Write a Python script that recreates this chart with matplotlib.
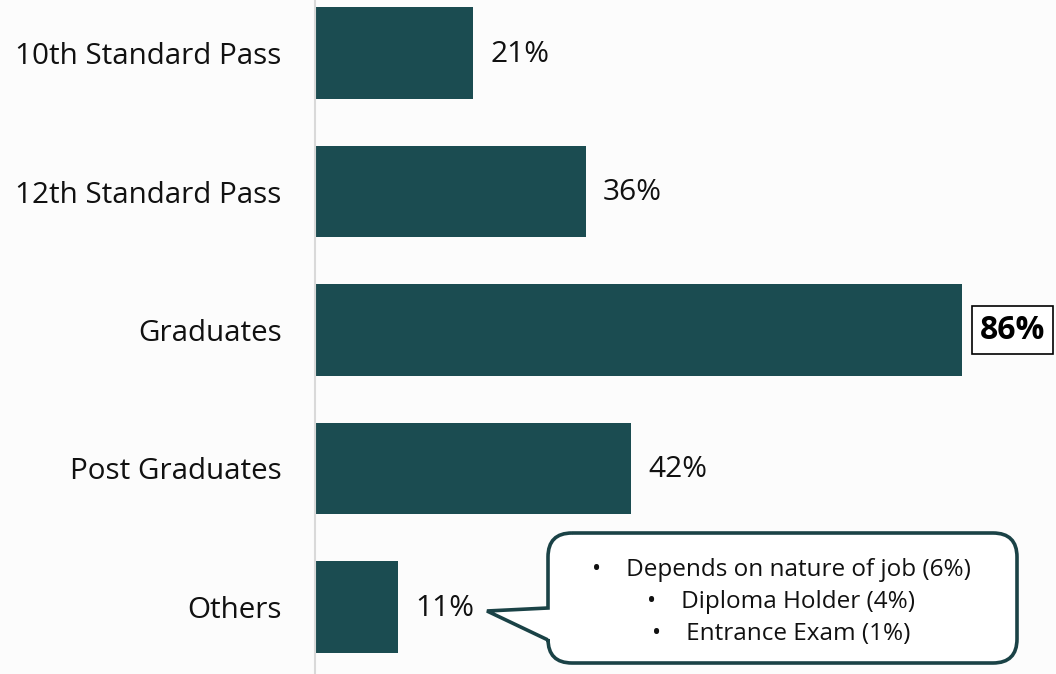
import matplotlib
matplotlib.use("Agg")
import matplotlib.pyplot as plt
from matplotlib.path import Path
from matplotlib.patches import PathPatch
from matplotlib.transforms import Affine2D

categories = ["10th Standard Pass", "12th Standard Pass", "Graduates", "Post Graduates", "Others"]
values = [21, 36, 86, 42, 11]
highlight = "Graduates"
callout_lines = ["•    Depends on nature of job (6%)", "•    Diploma Holder (4%)", "•    Entrance Exam (1%)"]

W, H = 1056, 674
plt.rcParams['font.family'] = ['Open Sans', 'DejaVu Sans']
BAR = "#1b4c51"
BG = "#fcfcfc"

fig = plt.figure(figsize=(W / 100, H / 100), dpi=100, facecolor=BG)
ax = fig.add_axes([315 / W, 0, (W - 315) / W, 1])
ax.set_facecolor(BG)

ypos = list(range(len(categories)))
ax.barh(ypos, values, height=0.664, color=BAR)
ax.set_xlim(0, 98.5)
ax.set_ylim(4.484, -0.383)

ax.set_yticks(ypos)
ax.set_yticklabels(categories, fontsize=21.3, color="#111111")
ax.tick_params(axis="y", length=0, pad=24)
ax.set_xticks([])
for s in ["top", "right", "bottom"]:
    ax.spines[s].set_visible(False)
ax.spines["left"].set_color("#d9d9d9")
ax.spines["left"].set_linewidth(1.5)

for y, v, c in zip(ypos, values, categories):
    if c == highlight:
        ax.annotate(f"{v}%", (v, y), xytext=(13, 0), textcoords="offset points",
                    va="center", ha="left", fontsize=23, fontweight="bold", color="#000000",
                    bbox=dict(boxstyle="square,pad=0.25", fc="white", ec="#000000", lw=1.2))
    else:
        ax.annotate(f"{v}%", (v, y), xytext=(12.5, -1), textcoords="offset points",
                    va="center", ha="left", fontsize=21.5, color="#111111")

# Callout box (pixel coordinates, y downwards)
x0, x1, yt, yb, r = 548, 1017, 533, 663, 24
tip = (487, 611)
p_top, p_bot = 608, 640
verts = [
    (x0 + r, yt), (x1 - r, yt), (x1, yt), (x1, yt + r),
    (x1, yb - r), (x1, yb), (x1 - r, yb),
    (x0 + r, yb), (x0, yb), (x0, yb - r),
    (x0, p_bot), tip, (x0, p_top),
    (x0, yt + r), (x0, yt), (x0 + r, yt),
]
codes = [Path.MOVETO, Path.LINETO, Path.CURVE3, Path.CURVE3,
         Path.LINETO, Path.CURVE3, Path.CURVE3,
         Path.LINETO, Path.CURVE3, Path.CURVE3,
         Path.LINETO, Path.LINETO, Path.LINETO,
         Path.LINETO, Path.CURVE3, Path.CURVE3]
pix = Affine2D().scale(1, -1).translate(0, H).scale(1 / W, 1 / H) + fig.transFigure
patch = PathPatch(Path(verts, codes), transform=pix, fc="white", ec="#1a4246", lw=2.6,
                  joinstyle="miter", clip_on=False)
fig.add_artist(patch)

line_y = [570, 602, 634]
for t, ly in zip(callout_lines, line_y):
    fig.text(781 / W, 1 - ly / H, t, ha="center", va="center", fontsize=17.5, color="#111111")

fig.savefig("out.png", dpi=100, facecolor=BG)
